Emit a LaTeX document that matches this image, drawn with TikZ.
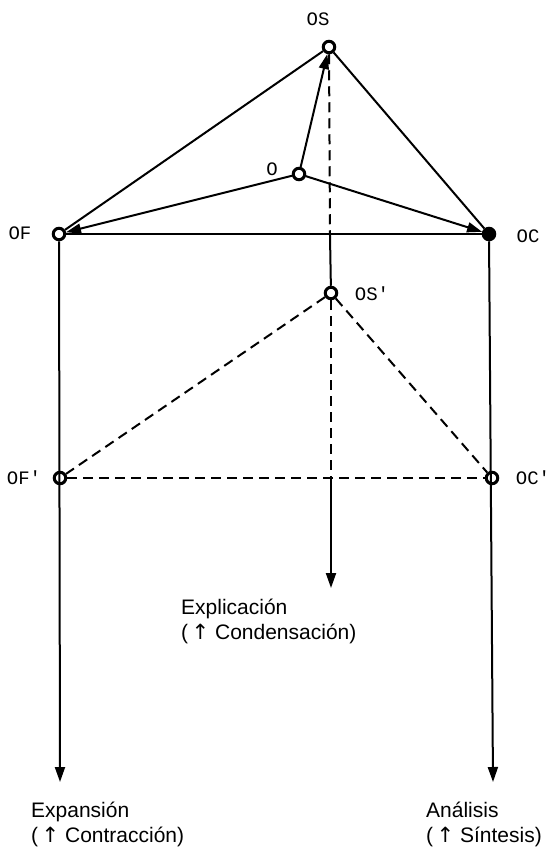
\documentclass[tikz,border=0pt]{standalone}
\usepackage{fontspec}
\setmainfont{Liberation Sans}
\newfontfamily\labelfont{Liberation Mono}
\newfontfamily\arrowfont{DejaVu Sans}
\usetikzlibrary{arrows.meta,calc}

\begin{document}
\begin{tikzpicture}[x=1pt, y=-1pt,
    pt/.style={circle, draw, line width=3pt, inner sep=0pt, minimum size=11.5pt},
    lbl/.style={font=\labelfont\fontsize{19}{19}\selectfont, inner sep=0pt},
    tag/.style={font=\fontsize{21}{25}\selectfont, align=left, anchor=north west, inner sep=0pt},
    line/.style={line width=2pt},
    dline/.style={line, dash pattern=on 10pt off 6pt},
    arr/.style={line, -{Triangle[length=15pt, width=10pt]}},
]
\useasboundingbox (0,0) rectangle (554,857);

% upper triangle
\node[pt] (os) at (329,47) {};
\node[pt] (o) at (299,174) {};
\node[pt] (of) at (59,234) {};
\node[pt, fill=black] (oc) at (489,234) {};
\node[lbl] (oslbl) at (318,19) {OS};
\node[lbl] (olbl) at (272,169) {O};
\node[lbl] (oflbl) at (20,233) {OF};
\node[lbl] (oclbl) at (528,236) {OC};

% lower triangle
\node[pt] (os2) at (331,293) {};
\node[pt] (of2) at (60,478) {};
\node[pt] (oc2) at (492,478) {};
\node[lbl] (os2lbl) at (372,294) {OS'};
\node[lbl] (of2lbl) at (24,478) {OF'};
\node[lbl] (oc2lbl) at (533,478) {OC'};

% arrow ends
\coordinate (endf) at (60,782);
\coordinate (endc) at (493,782);
\coordinate (ends) at (331,588);
\coordinate (m1) at (330,236);
\coordinate (m2) at (331,481);

\draw[line] (os) -- (of);
\draw[line] (os) -- (oc);
\draw[line] (of) -- (oc);
\draw[arr] (o) -- (os);
\draw[arr] (o) -- (of);
\draw[arr] (o) -- (oc);

\draw[dline] (os) -- (m1);
\draw[line] (m1) -- (os2);
\draw[dline] (os2) -- (m2);
\draw[arr] (m2) -- (ends);

\draw[dline] (os2) -- (of2);
\draw[dline] (os2) -- (oc2);
\draw[dline] (of2) -- (oc2);

\draw[arr] (of) -- (endf);
\draw[arr] (oc) -- (endc);

% captions
\node[tag] (expl) at (181,599) {Explicación\\({\arrowfont\,↑} Condensación)};
\node[tag] (expa) at (31,802) {Expansión\\({\arrowfont\,↑} Contracción)};
\node[tag] (anal) at (426,802) {Análisis\\({\arrowfont\,↑} Síntesis)};
\end{tikzpicture}
\end{document}
